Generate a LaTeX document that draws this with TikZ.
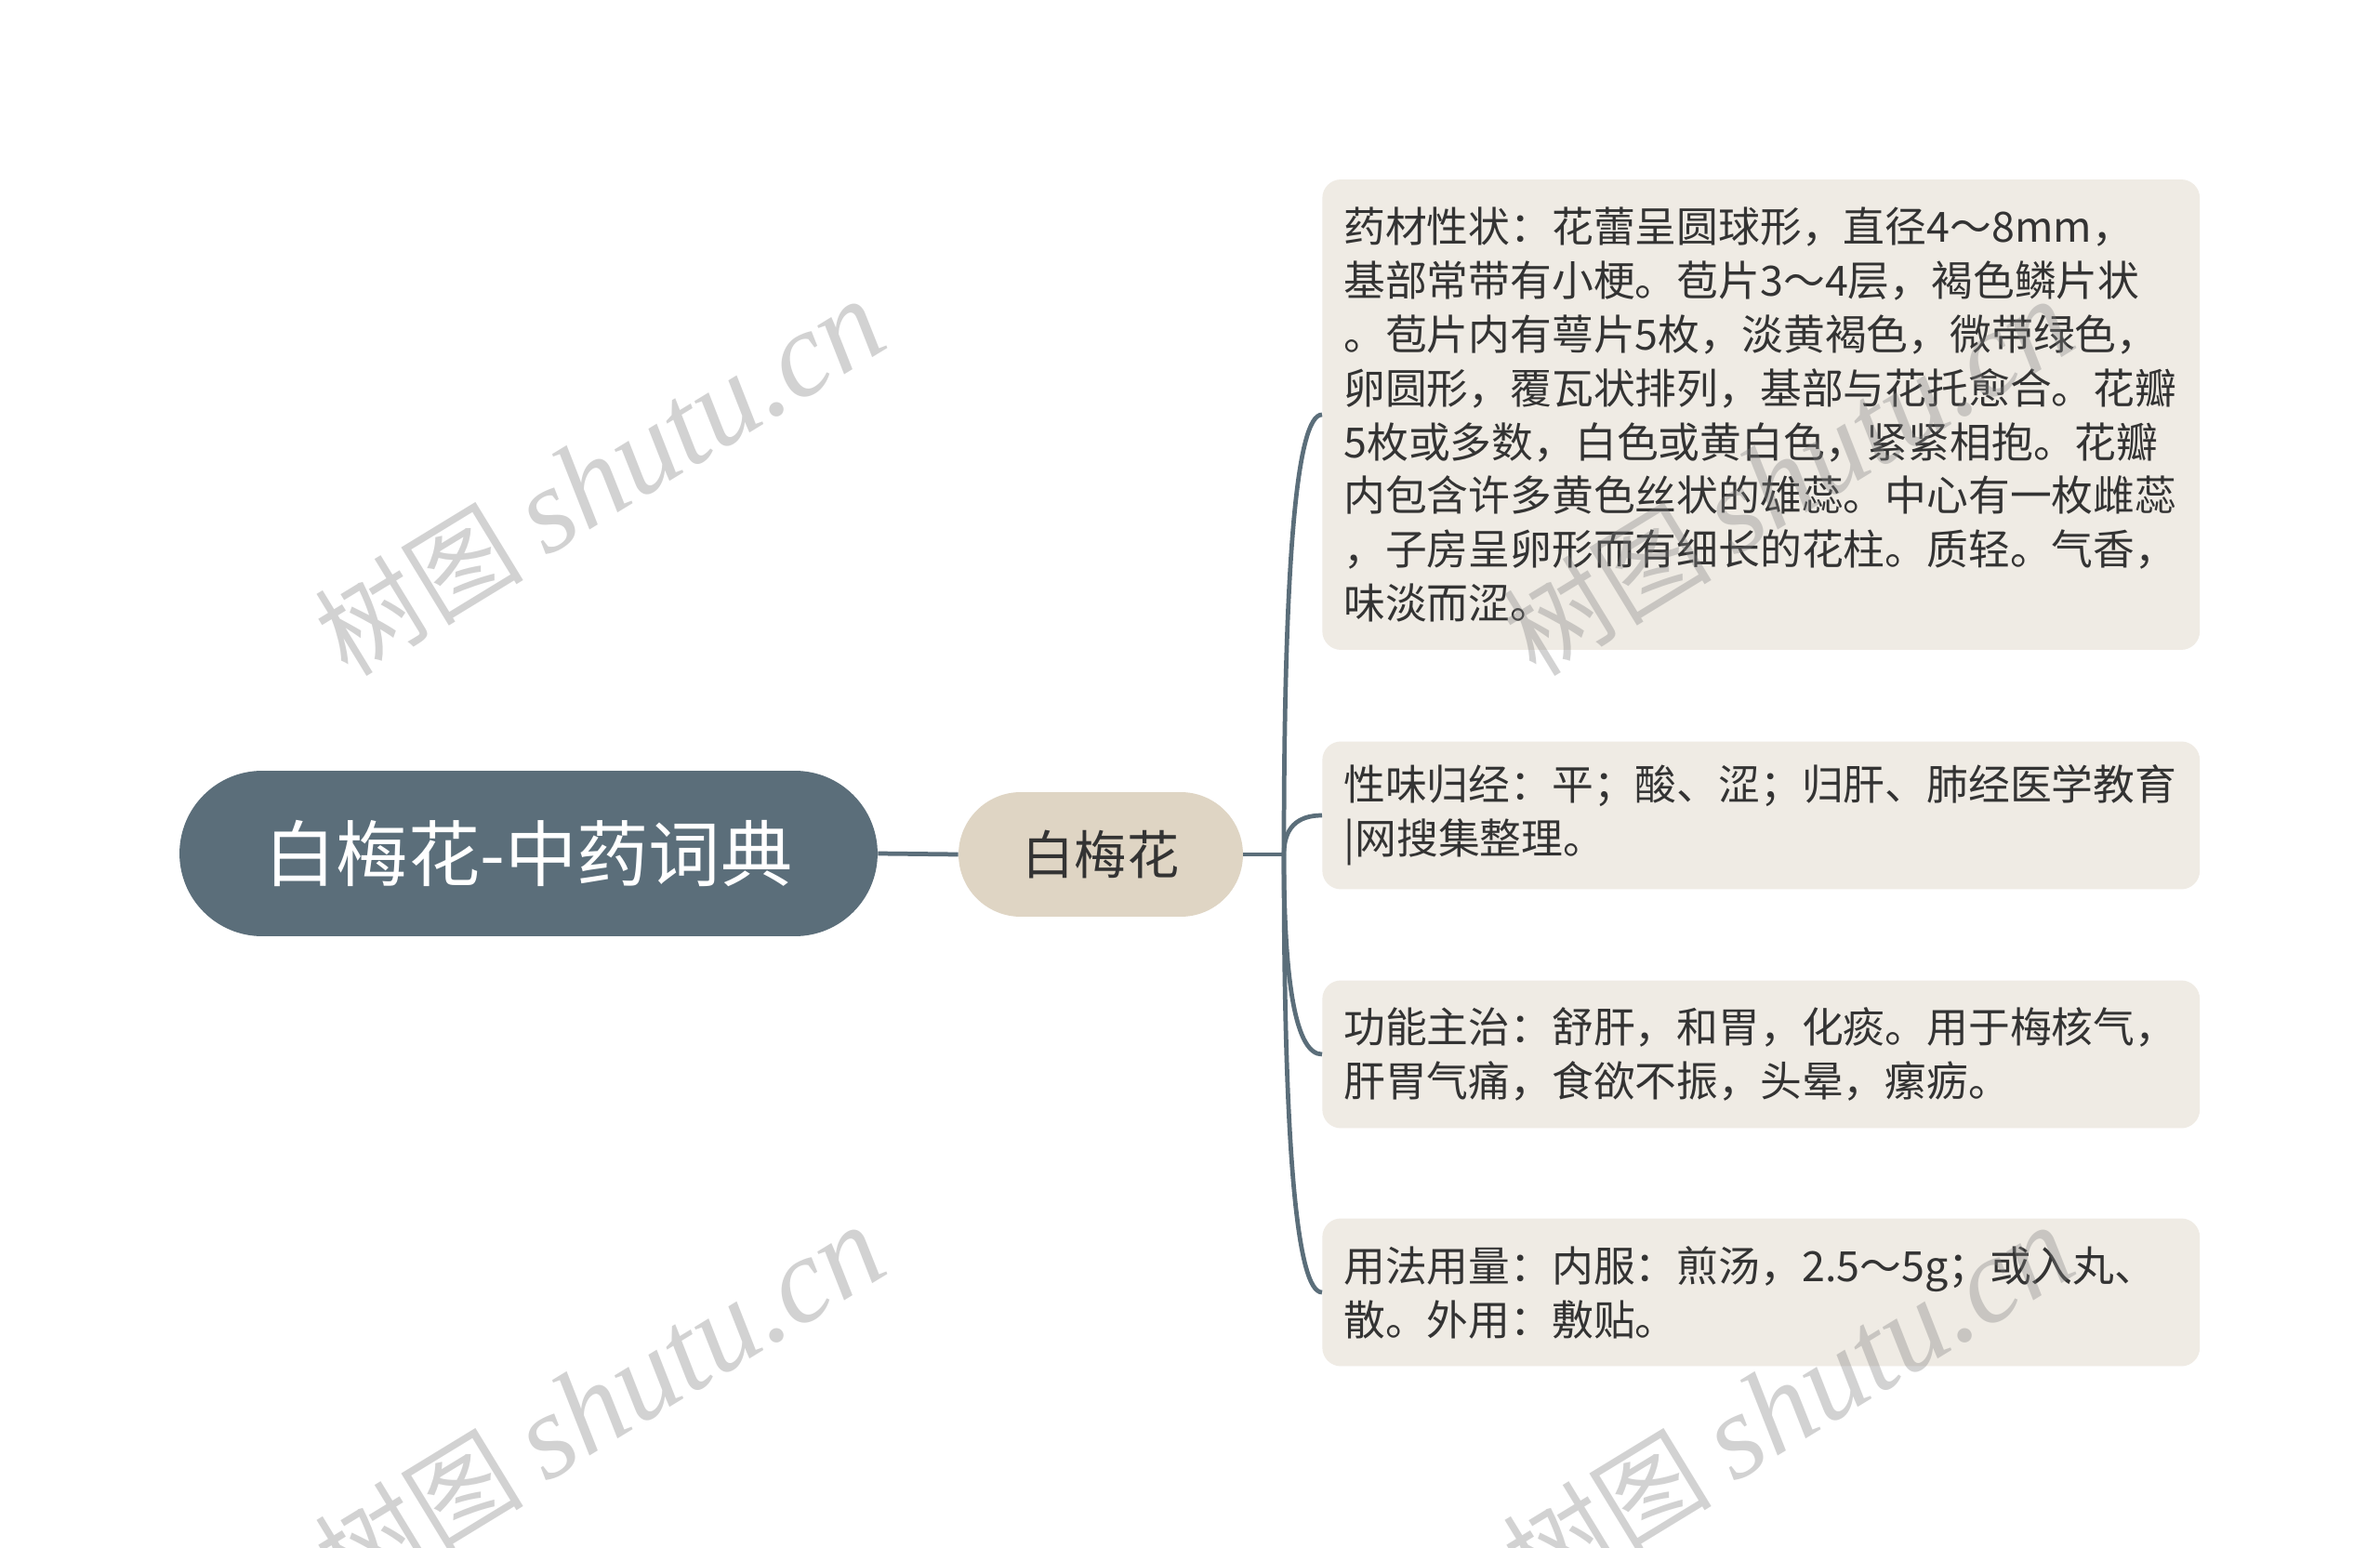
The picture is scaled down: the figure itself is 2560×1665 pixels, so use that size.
\documentclass[tikz,border=0pt]{standalone}
\usepackage{fontspec}
\setmainfont{Noto Sans CJK SC}
\newfontfamily\wmlatin{Liberation Serif}
\usepackage{tikz}
\usetikzlibrary{calc}
\definecolor{slate}{HTML}{5B6E7A}
\definecolor{sand}{HTML}{DFD5C4}
\definecolor{paper}{HTML}{EFEBE4}
\definecolor{ink}{HTML}{333333}

\begin{document}
\begin{tikzpicture}[x=0.02cm,y=-0.02cm,
  topic/.style={fill=slate,text=white,rounded corners=1.78cm,minimum width=15.02cm,minimum height=3.56cm,font=\fontsize{44}{52}\selectfont},
  sub/.style={fill=sand,text=ink,rounded corners=1.34cm,minimum width=6.12cm,minimum height=2.68cm,font=\fontsize{32}{38}\selectfont},
  leaf/.style={fill=paper,text=ink,rounded corners=0.4cm,anchor=west,text width=17.96cm,inner xsep=0.46cm,inner ysep=0pt,minimum height=3.18cm,align=left,font=\fontsize{25.5}{33}\selectfont},
  link/.style={draw=slate,line width=2.7pt},
  wm/.style={rotate=31.4,text=black!50,opacity=0.35,font=\fontsize{64}{64}\selectfont}]
\useasboundingbox[fill=white] (0,0) rectangle (2560,1665);

\node[topic] (root) at (568.5,918) {白梅花-中药词典};
\node[sub] (mid) at (1184,919) {白梅花};
\coordinate (j) at (1381,919);

\node[leaf,minimum height=10.12cm] (l1) at (1422,446) {药材性状：花蕾呈圆球形，直径4～8mm，\\
基部常带有小梗。苞片3～4层，褐色鳞片状\\
。苞片内有萼片5枚，淡黄褐色，微带绿色，\\
卵圆形，覆瓦状排列，基部与花托愈合。花瓣\\
5枚或多数，白色或黄白色，紧紧相抱。花瓣\\
内包含许多黄色丝状的雄蕊。中心有一枚雌蕊\\
，子房呈卵形而有细长的花柱。质轻。气香，\\
味淡而涩。};
\node[leaf] (l2) at (1422,877) {性味归经：平；酸、涩；归肝、肺经医学教育\\
|网搜集整理。};
\node[leaf] (l3) at (1422,1134) {功能主治：舒肝，和胃，化痰。用于梅核气，\\
肝胃气痛，食欲不振，头晕，瘰疬。};
\node[leaf] (l4) at (1422,1390) {用法用量：内服：煎汤，2.5～5g；或入丸、\\
散。外用：敷贴。};

\draw[link] (root.east) -- (mid.west);
\draw[link] (mid.east) -- (j);
\foreach \l in {l1,l2,l3,l4}
  \draw[link] (j) .. controls ($(j)!0.667!(j|-\l.west)$) and ($(\l.west)!0.667!(j|-\l.west)$) .. (\l.west);

\node[wm] (wm1) at (645,514) {树图 {\wmlatin\itshape\fontsize{74}{74}\selectfont shutu.cn}};
\node[wm] (wm2) at (1923,514) {树图 {\wmlatin\itshape\fontsize{74}{74}\selectfont shutu.cn}};
\node[wm] (wm3) at (645,1510) {树图 {\wmlatin\itshape\fontsize{74}{74}\selectfont shutu.cn}};
\node[wm] (wm4) at (1923,1510) {树图 {\wmlatin\itshape\fontsize{74}{74}\selectfont shutu.cn}};
\end{tikzpicture}
\end{document}
